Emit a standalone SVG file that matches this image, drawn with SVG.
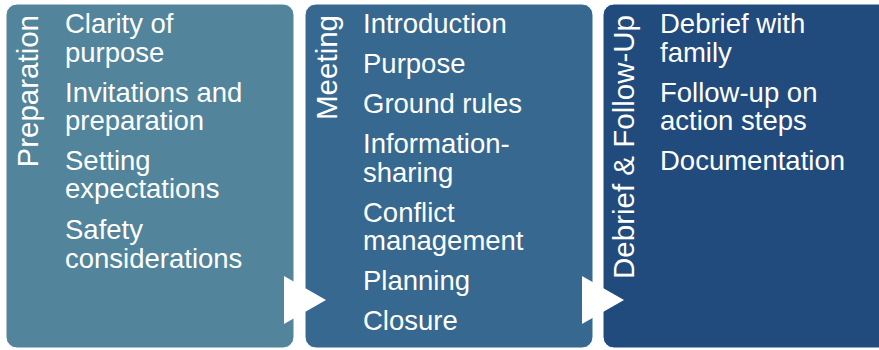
<svg xmlns="http://www.w3.org/2000/svg" width="879" height="350" viewBox="0 0 879 350">
<style>
.box{stroke:#ffffff;stroke-width:1}
.t{font-family:"Liberation Sans",Arial,sans-serif;font-size:27.5px;fill:#ffffff}
.h{font-family:"Liberation Sans",Arial,sans-serif;font-size:29.5px;fill:#ffffff}
.arrow{fill:#ffffff}
</style>
<rect width="879" height="350" fill="#ffffff"/>
<g id="preparation">
<rect class="box" x="6" y="4" width="288" height="344" rx="11" fill="#52849B"/>
<text class="h" transform="translate(38,15) rotate(-90)" text-anchor="end">Preparation</text>
<text class="t" x="65" y="33">Clarity of</text>
<text class="t" x="65" y="62">purpose</text>
<text class="t" x="65" y="102">Invitations and</text>
<text class="t" x="65" y="130">preparation</text>
<text class="t" x="65" y="170">Setting</text>
<text class="t" x="65" y="198">expectations</text>
<text class="t" x="65" y="239">Safety</text>
<text class="t" x="65" y="268">considerations</text>
</g>
<g id="meeting">
<rect class="box" x="305" y="4" width="288" height="344" rx="11" fill="#37688F"/>
<text class="h" transform="translate(337,15) rotate(-90)" text-anchor="end">Meeting</text>
<text class="t" x="363" y="33">Introduction</text>
<text class="t" x="363" y="73">Purpose</text>
<text class="t" x="363" y="113">Ground rules</text>
<text class="t" x="363" y="153">Information-</text>
<text class="t" x="363" y="182">sharing</text>
<text class="t" x="363" y="222">Conflict</text>
<text class="t" x="363" y="250">management</text>
<text class="t" x="363" y="290">Planning</text>
<text class="t" x="363" y="330">Closure</text>
</g>
<g id="debrief">
<rect class="box" x="603" y="4" width="290" height="344" rx="11" fill="#214A7D"/>
<text class="h" transform="translate(634,15) rotate(-90)" text-anchor="end">Debrief &amp; Follow-Up</text>
<text class="t" x="660" y="33">Debrief with</text>
<text class="t" x="660" y="62">family</text>
<text class="t" x="660" y="102">Follow-up on</text>
<text class="t" x="660" y="130">action steps</text>
<text class="t" x="660" y="170">Documentation</text>
</g>
<g id="connectors">
<polygon class="arrow" points="284,276 326,300 284,324"/>
<polygon class="arrow" points="582,276 624,300 582,324"/>
</g>
</svg>
